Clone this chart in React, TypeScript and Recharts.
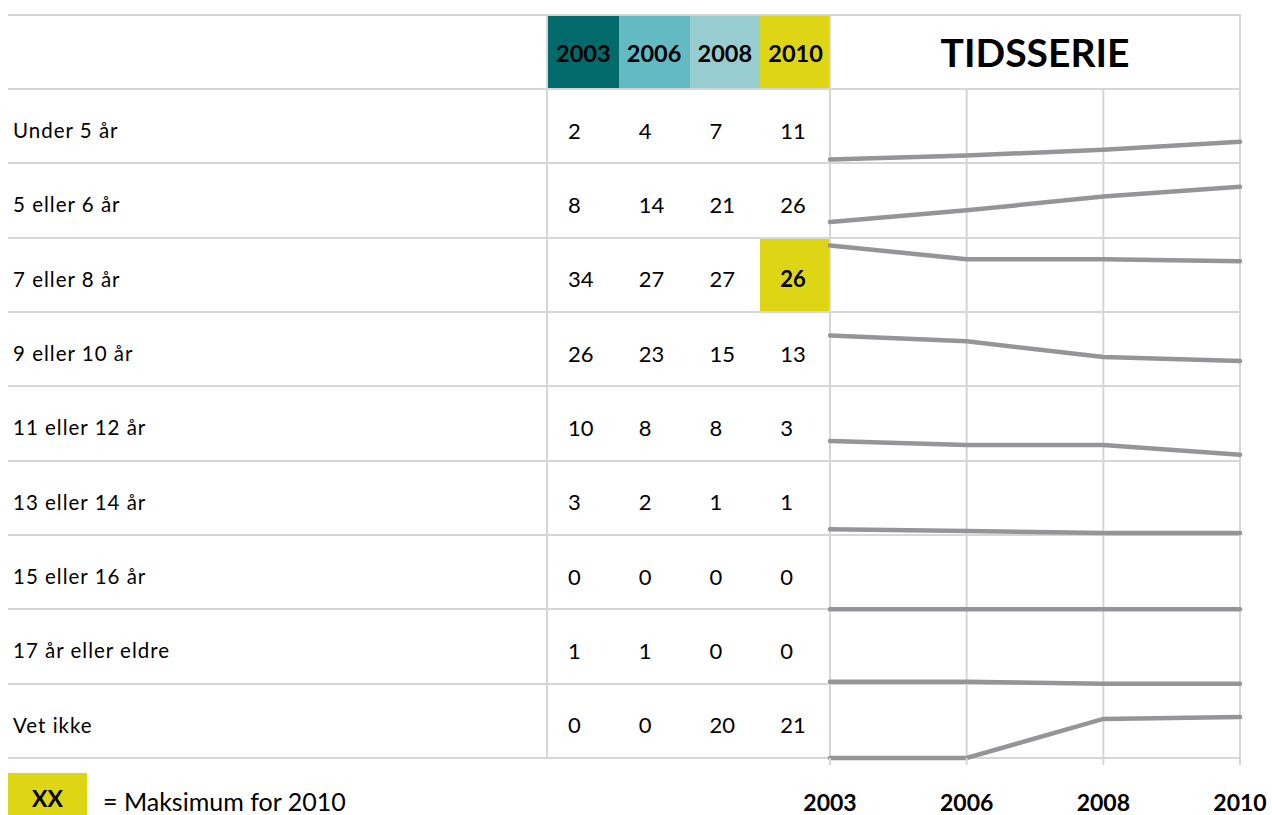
import React from 'react';
import { LineChart, Line, XAxis, YAxis, CartesianGrid } from 'recharts';

// rows of the table, top to bottom
const rows = [
    'Under 5 år',
    '5 eller 6 år',
    '7 eller 8 år',
    '9 eller 10 år',
    '11 eller 12 år',
    '13 eller 14 år',
    '15 eller 16 år',
    '17 år eller eldre',
    'Vet ikke'
];
const years = ['2003', '2006', '2008', '2010'];

// percent per row, one array per year
const v2003 = [2, 8, 34, 26, 10, 3, 0, 1, 0];
const v2006 = [4, 14, 27, 23, 8, 2, 0, 1, 0];
const v2008 = [7, 21, 27, 15, 8, 1, 0, 0, 20];
const v2010 = [11, 26, 26, 13, 3, 1, 0, 0, 21];
const values = [v2003, v2006, v2008, v2010];

const highlightRow = 2; // maksimum for 2010
const headerColors = ['#036A6C', '#63BAC3', '#97CDD0', '#DED614'];

const GRID = '#D6D6D6';
const LINE = '#939598';
const YELLOW = '#DED614';
const FONT = 'Lato, "Open Sans", sans-serif';

const TOP = 15;
const HEAD_BOTTOM = 89;
const BOTTOM = 758;
const ROW_H = (BOTTOM - HEAD_BOTTOM) / rows.length;
const LEFT = 8;
const COL_X = 547;
const COL_W = (830 - COL_X) / 4;
const SPARK_L = 830;
const SPARK_R = 1240;
const ROW_UNITS = 38; // value range shown in one sparkline row

// one record per year, one key per row
const chartData = years.map((year, j) => {
    const rec: Record<string, string | number> = { year };
    rows.forEach((_, i) => {
        rec['r' + i] = values[j][i];
    });
    return rec;
});

const hLine = (y: number, x1: number, x2: number, key: string) => (
    <div key={key} style={{ position: 'absolute', left: x1, top: y - 1, width: x2 - x1, height: 2, background: GRID }} />
);
const vLine = (x: number, y1: number, y2: number, key: string) => (
    <div key={key} style={{ position: 'absolute', left: x - 1, top: y1, width: 2, height: y2 - y1, background: GRID }} />
);

const App: React.FC = () => {
    return (
        <div style={{ position: 'absolute', left: 0, top: 0, width: 1272, height: 815, fontFamily: FONT, color: '#000', background: '#fff', overflow: 'hidden' }}>
            {/* header cells */}
            {years.map((y, j) => (
                <div
                    key={y}
                    style={{
                        position: 'absolute',
                        left: COL_X + j * COL_W + 1,
                        top: TOP + 1,
                        width: COL_W,
                        height: HEAD_BOTTOM - TOP - 2,
                        background: headerColors[j],
                        display: 'flex',
                        alignItems: 'center',
                        justifyContent: 'center',
                        fontWeight: 700,
                        fontSize: 23.5,
                        paddingTop: 2,
                        boxSizing: 'border-box'
                    }}
                >
                    {y}
                </div>
            ))}
            <div style={{ position: 'absolute', left: SPARK_L, top: TOP, width: SPARK_R - SPARK_L, height: HEAD_BOTTOM - TOP, display: 'flex', alignItems: 'center', justifyContent: 'center', fontWeight: 700, fontSize: 39 }}>
                TIDSSERIE
            </div>

            {/* highlighted max cell */}
            <div style={{ position: 'absolute', left: COL_X + 3 * COL_W + 1, top: HEAD_BOTTOM + highlightRow * ROW_H + 1, width: COL_W - 1, height: ROW_H - 2, background: YELLOW }} />

            {/* row labels and numbers */}
            {rows.map((r, i) => (
                <React.Fragment key={r}>
                    <div style={{ position: 'absolute', left: 13, top: HEAD_BOTTOM + i * ROW_H + 4, height: ROW_H, display: 'flex', alignItems: 'center', fontSize: 20.5, letterSpacing: 1 }}>
                        {r}
                    </div>
                    {values.map((col, j) => (
                        <div
                            key={j}
                            style={{
                                position: 'absolute',
                                left: COL_X + j * COL_W + 21,
                                top: HEAD_BOTTOM + i * ROW_H + 4,
                                height: ROW_H,
                                display: 'flex',
                                alignItems: 'center',
                                fontSize: 22,
                                fontWeight: i === highlightRow && j === 3 ? 700 : 400
                            }}
                        >
                            {col[i]}
                        </div>
                    ))}
                </React.Fragment>
            ))}

            {/* table lines */}
            {hLine(TOP, LEFT, SPARK_R + 1, 'top')}
            {rows.map((_, i) => hLine(HEAD_BOTTOM + i * ROW_H, LEFT, SPARK_R + 1, 'h' + i))}
            {hLine(BOTTOM, LEFT, SPARK_R + 1, 'bottom')}
            {vLine(COL_X, TOP, BOTTOM + 1, 'v1')}
            {vLine(SPARK_L, TOP, HEAD_BOTTOM, 'v2')}
            {vLine(SPARK_R, TOP, HEAD_BOTTOM, 'v3')}

            {/* sparklines */}
            <div style={{ position: 'absolute', left: SPARK_L - 30, top: HEAD_BOTTOM }}>
                <LineChart width={472} height={815 - HEAD_BOTTOM} data={chartData} margin={{ top: 0, right: 1272 - SPARK_R, bottom: 0, left: 30 }}>
                    <CartesianGrid vertical horizontal={false} stroke={GRID} strokeWidth={2} />
                    <XAxis
                        dataKey="year"
                        height={815 - BOTTOM}
                        axisLine={false}
                        tickLine={{ stroke: GRID, strokeWidth: 2 }}
                        tickSize={7}
                        tickMargin={30}
                        interval={0}
                        tick={{ fontFamily: FONT, fontWeight: 700, fontSize: 23, fill: '#000' }}
                    />
                    {rows.map((_, i) => (
                        <YAxis
                            key={'y' + i}
                            yAxisId={i}
                            hide
                            type="number"
                            domain={[-(rows.length - 1 - i) * ROW_UNITS, (i + 1) * ROW_UNITS]}
                        />
                    ))}
                    {rows.map((_, i) => (
                        <Line
                            key={'l' + i}
                            yAxisId={i}
                            type="linear"
                            dataKey={'r' + i}
                            stroke={LINE}
                            strokeWidth={4.5}
                            strokeLinecap="round"
                            dot={false}
                            activeDot={false}
                            isAnimationActive={false}
                        />
                    ))}
                </LineChart>
            </div>

            {/* legend */}
            <div style={{ position: 'absolute', left: LEFT, top: 773, width: 79, height: 42, background: YELLOW, display: 'flex', alignItems: 'center', justifyContent: 'center', fontWeight: 700, fontSize: 23, paddingTop: 8, boxSizing: 'border-box' }}>
                XX
            </div>
            <div style={{ position: 'absolute', left: 103, top: 786, fontSize: 25, lineHeight: '30px' }}>
                = Maksimum for 2010
            </div>
        </div>
    );
};

export default App;
